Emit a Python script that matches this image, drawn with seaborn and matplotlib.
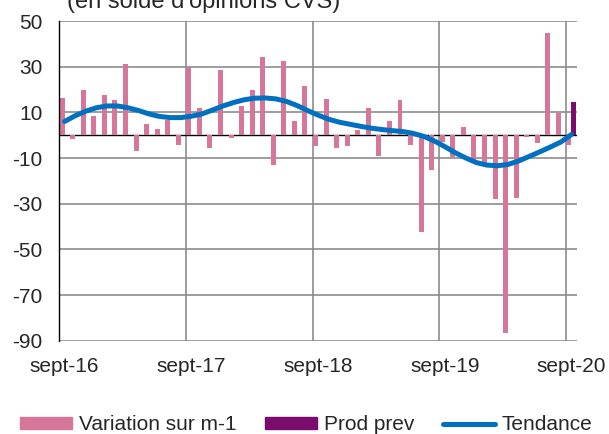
import numpy as np
import pandas as pd
import matplotlib.pyplot as plt
import seaborn as sns
from matplotlib.patches import Patch
from matplotlib.lines import Line2D

# ------------------------------
# Data (monthly, sept-16 -> sept-20)
# ------------------------------
variation = [16.3, -1.8, 19.8, 8.6, 17.5, 15.6, 31.2, -6.9, 5.1, 2.8, 6.6, -4.4,
             29.9, 11.8, -5.7, 28.4, -1.2, 12.7, 19.8, 34.1, -13.1, 32.4, 6.0, 21.7,
             -4.7, 15.8, -5.5, -4.6, 2.2, 12.0, -9.0, 6.1, 15.3, -4.1, -42.2, -15.2,
             -3.2, -9.5, 3.5, -10.9, -12.5, -28.0, -86.5, -27.6, -0.8, -3.4, 44.8, 9.5,
             -4.4]
prod_prev = [None] * 48 + [14.4]
tendance = [6.0, 8.5, 10.5, 12.0, 12.8, 12.8, 12.0, 10.8, 9.3, 8.2, 7.7, 7.7,
            8.3, 9.3, 11.0, 12.8, 14.3, 15.5, 16.2, 16.3, 15.9, 14.8, 13.0, 10.8,
            8.8, 7.0, 5.7, 4.8, 3.9, 3.1, 2.5, 2.0, 1.6, 0.8, -0.5, -2.5,
            -5.0, -7.7, -10.0, -12.0, -13.1, -13.4, -12.8, -11.3, -9.3, -7.3, -5.2, -3.0,
            0.3]
tick_labels = ["sept-16", "sept-17", "sept-18", "sept-19", "sept-20"]

pink = "#D6769A"
purple = "#7B0C6E"
blue = "#0070C0"
grid_grey = "#8C8C8C"

months = np.arange(len(variation))
df = pd.DataFrame({
    "mois": np.concatenate([months, months]) + 0.5,
    "serie": ["Variation sur m-1"] * len(months) + ["Prod prev"] * len(months),
    "valeur": pd.to_numeric(pd.Series(variation + prod_prev), errors="coerce"),
}).dropna()

# ------------------------------
# Plot
# ------------------------------
sns.set_style("white")
plt.rcParams["font.family"] = ["Liberation Sans", "DejaVu Sans"]
plt.rcParams["axes.unicode_minus"] = False

fig, ax = plt.subplots(figsize=(6.09, 4.34), dpi=100)
fig.subplots_adjust(left=0.0974, right=0.947, top=0.9516, bottom=0.215)

sns.barplot(data=df, x="mois", y="valeur", hue="serie",
            hue_order=["Variation sur m-1", "Prod prev"],
            palette={"Variation sur m-1": pink, "Prod prev": purple},
            native_scale=True, dodge=True, width=0.94, errorbar=None,
            saturation=1, linewidth=0, legend=False, ax=ax, zorder=2)
sns.lineplot(x=months + 0.5, y=tendance, color=blue, lw=3.6,
             solid_capstyle="round", ax=ax, zorder=3)
ax.axhline(0, color="black", lw=1, zorder=1.5)

ax.set_xlim(0, len(months))
ax.set_ylim(-90, 50)
ax.set_yticks(range(-90, 51, 20))
ax.set_xticks(np.arange(0, len(months), 12) + 0.5, labels=tick_labels)
ax.set_xticks(np.arange(0, len(months), 12), minor=True)
ax.tick_params(axis="x", which="both", length=0, labelsize=15, pad=12)
ax.tick_params(axis="y", length=0, labelsize=15, pad=12)
ax.set_axisbelow(True)
ax.grid(axis="y", color=grid_grey, lw=1.2)
ax.grid(axis="x", which="minor", color=grid_grey, lw=1.2)
ax.grid(axis="x", which="major", visible=False)
ax.set_xlabel("")
ax.set_ylabel("")
for side in ["top", "right", "bottom"]:
    ax.spines[side].set_visible(False)
ax.spines["left"].set_color("black")
ax.spines["left"].set_linewidth(1)

# title sits partly above the top edge, as in the source
fig.text(67 / 609, 1 - 8 / 434, "(en solde d'opinions CVS)", fontsize=17,
         ha="left", va="baseline")

handles = [Patch(color=pink), Patch(color=purple),
           Line2D([], [], color=blue, lw=3.6, solid_capstyle="round")]
fig.legend(handles, ["Variation sur m-1", "Prod prev", "Tendance"],
           loc="center", bbox_to_anchor=(0.503, 1 - 425 / 434), ncol=3,
           frameon=False, fontsize=15, handlelength=2.5, handleheight=0.5,
           handletextpad=0.3, columnspacing=1.4, borderpad=0)

fig.savefig("out.png", dpi=100)
